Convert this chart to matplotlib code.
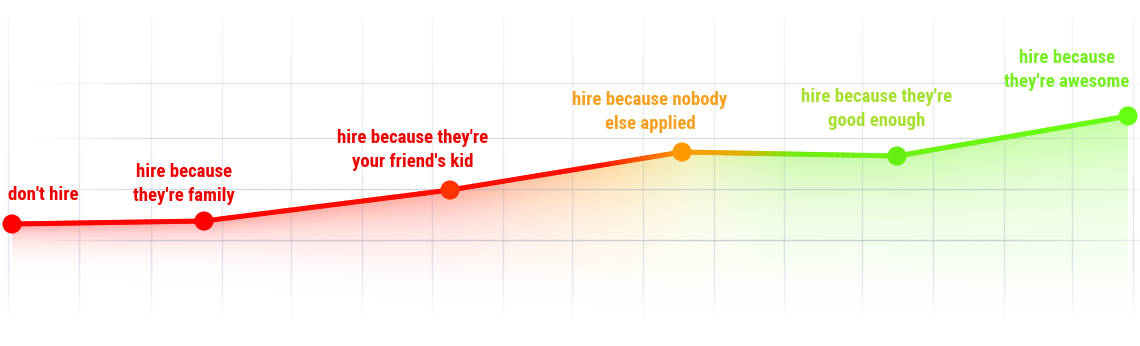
import numpy as np
import matplotlib.pyplot as plt
from matplotlib.collections import LineCollection
from matplotlib.colors import LinearSegmentedColormap

# stages of hiring, left to right
stages = ["don't hire",
          "hire because\nthey're family",
          "hire because they're\nyour friend's kid",
          "hire because nobody\nelse applied",
          "hire because they're\ngood enough",
          "hire because\nthey're awesome"]
stage_x = [12, 204, 450, 682, 897, 1128]
stage_y = [122, 125, 156, 194, 190, 230]
point_colors = ['#ff0000', '#ff0000', '#ff3300', '#ff9900', '#66ee11', '#66ff11']
label_colors = ['#ee0000', '#ee0000', '#ee0000', '#f5a020', '#a8e030', '#77ee22']
grid_x = [8, 79, 151, 222, 291, 362, 432, 503, 572, 643, 714, 784, 862, 933, 1004, 1072, 1133]
grid_y = [106, 157, 208, 263]

W, H = 1140, 346

# label placement (centre of the text block)
label_pos = [(8, 151), (184, 162), (413, 196), (650, 234), (877, 237), (1067, 276)]
label_ha = ['left', 'center', 'center', 'center', 'center', 'center']
label_font = ['Roboto Condensed', 'Roboto']

line_cmap = LinearSegmentedColormap.from_list('line', [
    (0.0, '#ff0000'), (600 / W, '#ff1000'), (682 / W, '#ff9900'),
    (745 / W, '#e0b000'), (795 / W, '#70ee11'), (1.0, '#66ff11')])
fill_cmap = LinearSegmentedColormap.from_list('fill', [
    (0.0, '#ff0000'), (450 / W, '#ff2000'), (610 / W, '#ff9900'),
    (700 / W, '#d0e040'), (780 / W, '#77ee22'), (1.0, '#66ff11')])

fig = plt.figure(figsize=(11.4, 3.46), dpi=100)
ax = fig.add_axes([0, 0, 1, 1])
ax.set_xlim(0, W)
ax.set_ylim(0, H)
ax.axis('off')

# grid, faded towards the edges
def vfade(py):
    return np.interp(py, [12, 22, 120, 250, 290, 318], [0, 0.35, 0.6, 0.95, 0.6, 0])

def hfade(px):
    return np.interp(px, [30, 150, 1000, 1140], [0, 1, 1, 0.35])

segs, cols = [], []
ys = np.linspace(0, H, 120)
for gx in grid_x:
    for a, b in zip(ys[:-1], ys[1:]):
        segs.append([(gx, a), (gx, b)])
        cols.append((0.6, 0.66, 0.74, 0.32 * vfade(H - (a + b) / 2)))
xs = np.linspace(0, W, 200)
for gy in grid_y:
    for a, b in zip(xs[:-1], xs[1:]):
        segs.append([(a, gy), (b, gy)])
        cols.append((0.6, 0.66, 0.74, 0.55 * vfade(H - gy) * hfade((a + b) / 2)))
ax.add_collection(LineCollection(segs, colors=cols, linewidths=1.0, zorder=3))

# gradient area under the line, fading faster where the line sits low
cx = np.arange(W) + 0.5
ry = np.arange(H) + 0.5
top = np.interp(cx, stage_x, stage_y)
d = np.clip(top[None, :] - ry[:, None], 0, None)
reach = np.clip((top - 100) * 0.62, 8, None)[None, :]
alpha = 0.38 * np.exp(-d / reach) * np.clip((ry[:, None] - 30) / 60.0, 0, 1)
img = np.zeros((H, W, 4))
img[..., :3] = fill_cmap(cx / W)[None, :, :3]
img[..., 3] = alpha
poly = ax.fill_between(stage_x, stage_y, 0, color='none', lw=0)
im = ax.imshow(img, extent=(0, W, 0, H), origin='lower', aspect='auto',
               interpolation='bilinear', zorder=2)
im.set_clip_path(poly.get_paths()[0], ax.transData)

# the line, coloured along x
px, py = [], []
for i in range(len(stage_x) - 1):
    t = np.linspace(0, 1, 40, endpoint=False)
    px.extend(stage_x[i] + t * (stage_x[i + 1] - stage_x[i]))
    py.extend(stage_y[i] + t * (stage_y[i + 1] - stage_y[i]))
px.append(stage_x[-1]); py.append(stage_y[-1])
pts = np.column_stack([px, py])
lsegs = np.stack([pts[:-1], pts[1:]], axis=1)
mid = (pts[:-1, 0] + pts[1:, 0]) / 2
ax.add_collection(LineCollection(lsegs, colors=line_cmap(mid / W), linewidths=3.6,
                                 capstyle='round', zorder=4))

ax.scatter(stage_x, stage_y, s=190, c=point_colors, zorder=5, linewidths=0)

for name, (lx, ly), ha, c in zip(stages, label_pos, label_ha, label_colors):
    ax.text(lx, ly, name, ha=ha, va='center', color=c, fontsize=13.5,
            fontweight='bold', family=label_font,
            linespacing=1.45, zorder=6)

fig.savefig('out.png', dpi=100)
